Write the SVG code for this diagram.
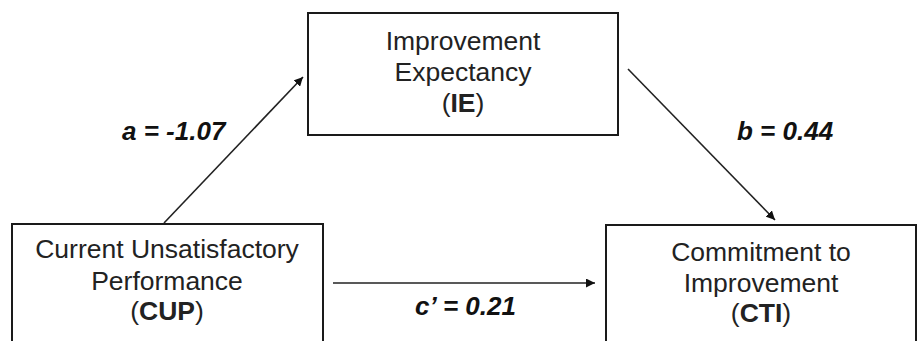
<svg xmlns="http://www.w3.org/2000/svg" width="917" height="341" viewBox="0 0 917 341">
<style>
.box{fill:#fff;stroke:#1a1a1a;stroke-width:2}
.t{font-family:"Liberation Sans",Arial,sans-serif;font-size:26.5px;fill:#222;text-anchor:middle}
.b{font-weight:bold}
.lab{font-family:"Liberation Sans",Arial,sans-serif;font-size:26px;font-weight:bold;font-style:italic;fill:#111}
.c{stroke:#222;stroke-width:1.6;fill:none;marker-end:url(#ah)}
</style>
<defs>
<marker id="ah" viewBox="0 0 10 10" refX="10" refY="5" markerWidth="9" markerHeight="9" markerUnits="userSpaceOnUse" orient="auto">
<path d="M0,0 L10,5 L0,10 z" fill="#111"/>
</marker>
</defs>
<rect width="917" height="341" fill="#fff"/>
<g id="connectors">
<line class="c" x1="164" y1="223" x2="303" y2="77"/>
<line class="c" x1="628" y1="69" x2="775" y2="220"/>
<line class="c" x1="333" y1="283" x2="595" y2="283"/>
</g>
<g id="IE">
<rect class="box" x="308" y="13" width="310" height="122"/>
<text class="t" x="463" y="50">Improvement</text>
<text class="t" x="463" y="81">Expectancy</text>
<text class="t" x="463" y="112">(<tspan class="b">IE</tspan>)</text>
</g>
<g id="CUP">
<rect class="box" x="12" y="224" width="311" height="130"/>
<text class="t" x="167" y="258">Current Unsatisfactory</text>
<text class="t" x="167" y="290">Performance</text>
<text class="t" x="167" y="320">(<tspan class="b">CUP</tspan>)</text>
</g>
<g id="CTI">
<rect class="box" x="606" y="225" width="310" height="130"/>
<text class="t" x="761" y="261">Commitment to</text>
<text class="t" x="761" y="292">Improvement</text>
<text class="t" x="761" y="322">(<tspan class="b">CTI</tspan>)</text>
</g>
<g id="labels">
<text class="lab" x="122" y="140">a = -1.07</text>
<text class="lab" x="737" y="140">b = 0.44</text>
<text class="lab" x="415" y="315">c’ = 0.21</text>
</g>
</svg>
